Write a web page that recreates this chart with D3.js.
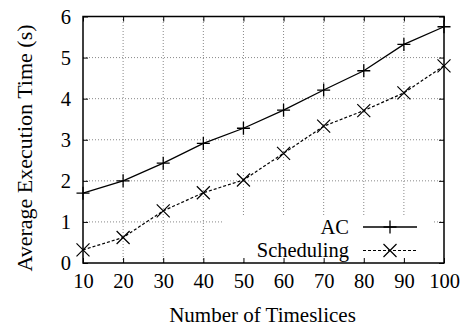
<!DOCTYPE html>
<html><head><meta charset="utf-8">
<script src="https://cdn.jsdelivr.net/npm/d3@7"></script>
<style>body{margin:0;background:#fff}svg{display:block}text{font-family:"Liberation Serif","Times New Roman",serif;fill:#000}</style>
</head><body><svg id="c" width="464" height="326"></svg>
<script>
const timeslices=[10,20,30,40,50,60,70,80,90,100];
const acValues=[1.70,2.00,2.43,2.91,3.28,3.72,4.21,4.68,5.32,5.75];
const schedValues=[0.32,0.62,1.27,1.71,2.02,2.67,3.33,3.71,4.14,4.80];
const xTicks=[10,20,30,40,50,60,70,80,90,100];
const yTicks=[0,1,2,3,4,5,6];
const seriesNames=["AC","Scheduling"];

const svg=d3.select("#c");
const L=83,R=444,T=16.5,B=263;
const x=d3.scaleLinear().domain([10,100]).range([L,R]);
const y=d3.scaleLinear().domain([0,6]).range([B,T]);
const fs=20.5;

// grid
const g=svg.append("g");
g.selectAll(".gx").data(xTicks.slice(1,-1)).join("line")
 .attr("x1",d=>x(d)).attr("x2",d=>x(d)).attr("y1",B).attr("y2",T)
 .attr("stroke","#888").attr("stroke-width",1).attr("stroke-dasharray","1,2");
g.selectAll(".gy").data(yTicks.slice(1,-1)).join("line")
 .attr("y1",d=>y(d)).attr("y2",d=>y(d)).attr("x1",L).attr("x2",R)
 .attr("stroke","#888").attr("stroke-width",1).attr("stroke-dasharray","1,2");

// axes (inward ticks, mirrored)
const tk=5;
const ax=svg.append("g").attr("transform",`translate(0,${B})`).call(d3.axisBottom(x).tickValues(xTicks).tickSize(-tk).tickPadding(10).tickFormat(d3.format("d")));
const axT=svg.append("g").attr("transform",`translate(0,${T})`).call(d3.axisTop(x).tickValues(xTicks).tickSize(-tk).tickFormat(""));
const ay=svg.append("g").attr("transform",`translate(${L},0)`).call(d3.axisLeft(y).tickValues(yTicks).tickSize(-tk).tickPadding(12).tickFormat(d3.format("d")));
const ayR=svg.append("g").attr("transform",`translate(${R},0)`).call(d3.axisRight(y).tickValues(yTicks).tickSize(-tk).tickFormat(""));
[ax,axT,ay,ayR].forEach(a=>{a.select(".domain").remove();a.selectAll("line").attr("stroke","#000");
 a.attr("font-family",null);
 a.selectAll("text").style("font-family","'Liberation Serif','Times New Roman',serif").style("font-size",fs+"px").attr("fill","#000");});
ax.selectAll("text").attr("dy","0.71em");

// lines
const lineGen=d3.line().x((d,i)=>x(timeslices[i])).y(d=>y(d));
svg.append("path").datum(acValues).attr("d",lineGen).attr("fill","none").attr("stroke","#000").attr("stroke-width",1.3);
svg.append("path").datum(schedValues).attr("d",lineGen).attr("fill","none").attr("stroke","#000").attr("stroke-width",1.2).attr("stroke-dasharray","3,2");

const ms=6.5;
function plus(sel,cx,cy){sel.append("path").attr("d",`M${cx-ms},${cy}H${cx+ms}M${cx},${cy-ms}V${cy+ms}`).attr("stroke","#000").attr("stroke-width",1.3);}
function cross(sel,cx,cy){sel.append("path").attr("d",`M${cx-ms},${cy-ms}L${cx+ms},${cy+ms}M${cx-ms},${cy+ms}L${cx+ms},${cy-ms}`).attr("stroke","#000").attr("stroke-width",1.2);}
const mk=svg.append("g");
acValues.forEach((v,i)=>plus(mk,x(timeslices[i]),y(v)));
schedValues.forEach((v,i)=>cross(mk,x(timeslices[i]),y(v)));

// legend (opaque)
svg.append("rect").attr("x",222).attr("y",217).attr("width",210).attr("height",B-217-1).attr("fill","#fff");
const lg=svg.append("g");
const rows=[{name:seriesNames[0],yy:227,dash:null,m:plus},{name:seriesNames[1],yy:250.5,dash:"3,2",m:cross}];
rows.forEach(r=>{
 lg.append("text").attr("x",349).attr("y",r.yy).attr("dy","0.33em").attr("text-anchor","end").style("font-size",fs+"px").text(r.name);
 lg.append("line").attr("x1",363).attr("x2",417).attr("y1",r.yy).attr("y2",r.yy).attr("stroke","#000").attr("stroke-width",r.dash?1.2:1.3).attr("stroke-dasharray",r.dash);
 r.m(lg,390,r.yy);
});
ax.raise();

// border
svg.append("rect").attr("x",L).attr("y",T).attr("width",R-L).attr("height",B-T).attr("fill","none").attr("stroke","#000").attr("stroke-width",1.5);

// titles
svg.append("text").attr("x",262.5).attr("y",322).attr("text-anchor","middle").style("font-size","21px").text("Number of Timeslices");
svg.append("text").attr("transform",`translate(32,${(20+276)/2}) rotate(-90)`).attr("text-anchor","middle").style("font-size","22px").text("Average Execution Time (s)");
</script></body></html>
